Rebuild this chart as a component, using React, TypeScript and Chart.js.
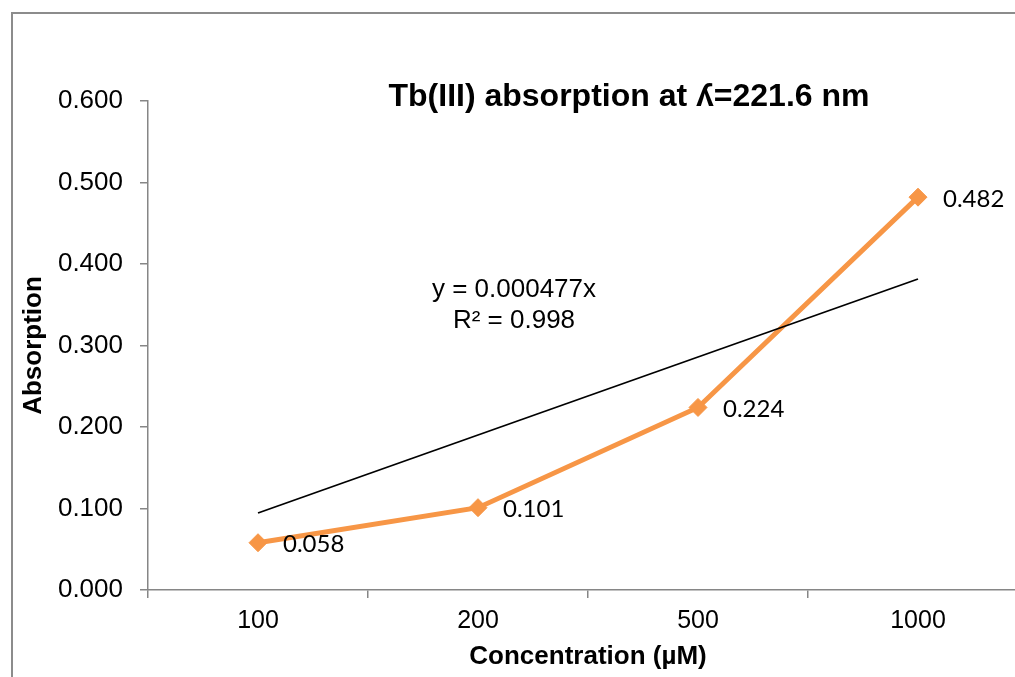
import React, { useEffect, useRef } from "react";
import { Chart, registerables } from "chart.js";

Chart.register(...registerables);

const categories = ["100", "200", "500", "1000"];
const absorption = [0.058, 0.101, 0.224, 0.482];
const dataLabels = ["0.058", "0.101", "0.224", "0.482"];
const trendValues = [0.0945, null, null, 0.3816];
const chartTitle = "Tb(III) absorption at \u028E=221.6 nm";
const trendText = ["y = 0.000477x", "R\u00B2 = 0.998"];
const yTitle = "Absorption";
const xTitle = "Concentration (\u00B5M)";

const ORANGE = "#F79646";
const AXIS = "#868686";
const FONT = "'Liberation Sans', Arial, sans-serif";

const overlayPlugin = {
  id: "overlay",
  afterDatasetsDraw(chart: any) {
    const ctx = chart.ctx;
    const area = chart.chartArea;
    ctx.save();
    const meta = chart.getDatasetMeta(0);
    ctx.font = "24px Lato";
    ctx.fillStyle = "#000";
    ctx.textAlign = "left";
    ctx.textBaseline = "middle";
    meta.data.forEach((el: any, i: number) => {
      ctx.fillText(dataLabels[i], el.x + 25, el.y + 2);
    });
    ctx.font = "bold 32px " + FONT;
    ctx.textAlign = "center";
    ctx.fillText(chartTitle, area.left + 481, area.top - 4);
    ctx.font = "26px " + FONT;
    ctx.fillText(trendText[0], area.left + 366, area.top + 189);
    ctx.fillText(trendText[1], area.left + 366, area.top + 220);
    ctx.restore();
  },
};

export default function App() {
  const ref = useRef<HTMLCanvasElement>(null);
  useEffect(() => {
    if (!ref.current) return;
    const chart = new Chart(ref.current, {
      type: "line",
      data: {
        labels: categories,
        datasets: [
          {
            data: absorption,
            borderColor: ORANGE,
            backgroundColor: ORANGE,
            borderWidth: 5,
            pointStyle: "rectRot",
            pointRadius: 9,
            pointBackgroundColor: ORANGE,
            pointBorderColor: ORANGE,
            pointBorderWidth: 1,
            order: 2,
          },
          {
            data: trendValues,
            borderColor: "#000",
            borderWidth: 1.8,
            pointRadius: 0,
            spanGaps: true,
            order: 1,
          },
        ],
      },
      options: {
        responsive: false,
        animation: false,
        devicePixelRatio: 1,
        layout: { padding: { top: 87, left: 0, right: 45, bottom: 44 } },
        plugins: {
          legend: { display: false },
          tooltip: { enabled: false },
          title: { display: false },
        },
        scales: {
          x: {
            type: "category",
            offset: true,
            grid: {
              offset: true,
              drawOnChartArea: false,
              drawTicks: true,
              tickLength: 8,
              color: AXIS,
              lineWidth: 1.5,
            },
            border: { display: true, color: AXIS, width: 1.5 },
            ticks: {
              color: "#000",
              padding: 8,
              maxRotation: 0,
              font: { family: FONT, size: 25 },
            },
            title: {
              display: true,
              text: xTitle,
              color: "#000",
              padding: { top: 0, bottom: 18 },
              font: { family: FONT, size: 26, weight: "bold" },
            },
            afterFit(scale: any) {
              scale.height = 100;
            },
          },
          y: {
            min: 0,
            max: 0.6,
            grid: {
              drawOnChartArea: false,
              drawTicks: true,
              tickLength: 8,
              color: AXIS,
              lineWidth: 1.5,
            },
            border: { display: true, color: AXIS, width: 1.5 },
            ticks: {
              stepSize: 0.1,
              color: "#000",
              padding: 17,
              callback: (v: any) => Number(v).toFixed(3),
              font: { family: FONT, size: 26 },
            },
            title: {
              display: true,
              text: yTitle,
              color: "#000",
              padding: { top: 5, bottom: 0 },
              font: { family: FONT, size: 26, weight: "bold" },
            },
            afterFit(scale: any) {
              scale.width = 135;
            },
          },
        },
      },
      plugins: [overlayPlugin],
    });
    return () => chart.destroy();
  }, []);

  return (
    <div style={{ position: "fixed", inset: 0, overflow: "hidden", background: "#fff" }}>
      <div
        style={{
          position: "absolute",
          left: 11,
          top: 12,
          width: 1060,
          height: 720,
          border: "2px solid #8c8c8c",
          background: "#fff",
        }}
      >
        <canvas ref={ref} width={1060} height={720} style={{ display: "block" }} />
      </div>
    </div>
  );
}
